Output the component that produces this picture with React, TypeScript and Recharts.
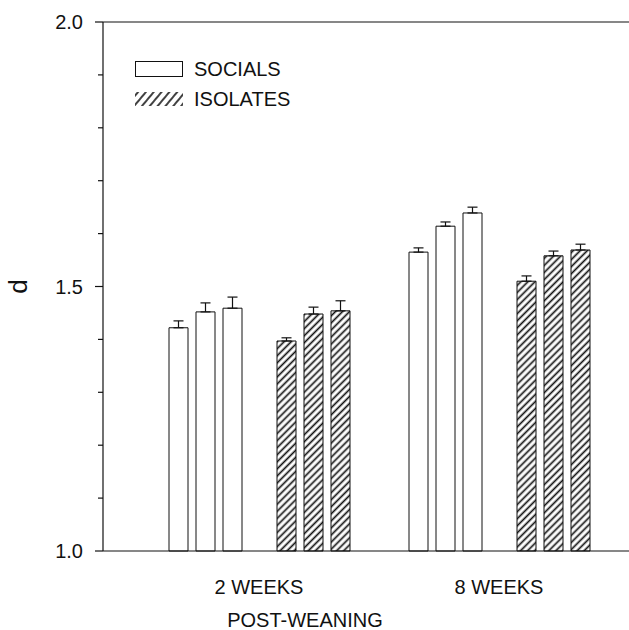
import React from "react";
import {
  BarChart,
  Bar,
  XAxis,
  YAxis,
  ErrorBar,
  ReferenceLine,
  Legend,
  Label,
} from "recharts";

const INK = "#111";
const FONT = "'Liberation Sans', Arial, Helvetica, sans-serif";

const weeks = ["2 WEEKS", "8 WEEKS"];
// three bars per group
const socialMeans = [
  [1.422, 1.452, 1.459],
  [1.565, 1.614, 1.639],
];
const socialErrors = [
  [0.013, 0.017, 0.021],
  [0.008, 0.008, 0.011],
];
const isolateMeans = [
  [1.397, 1.448, 1.454],
  [1.51, 1.558, 1.569],
];
const isolateErrors = [
  [0.006, 0.013, 0.019],
  [0.01, 0.009, 0.011],
];
const yTicks = [1.0, 1.1, 1.2, 1.3, 1.4, 1.5, 1.6, 1.7, 1.8, 1.9, 2.0];
const labelledTicks = [1.0, 1.5, 2.0];
const legendItems = ["SOCIALS", "ISOLATES"];

const rows = weeks.map((week, w) => {
  const row: Record<string, any> = { week, spacer: null };
  [0, 1, 2].forEach((k) => {
    row[`s${k}`] = socialMeans[w][k];
    row[`s${k}Err`] = [0, socialErrors[w][k]];
    row[`i${k}`] = isolateMeans[w][k];
    row[`i${k}Err`] = [0, isolateErrors[w][k]];
  });
  return row;
});

const YTick = ({ x, y, payload }: any) => {
  const major = labelledTicks.includes(payload.value);
  return (
    <g>
      <line x1={x - (major ? 8 : 5)} x2={x} y1={y} y2={y} stroke={INK} strokeWidth={1.2} />
      {major && (
        <text
          x={x - 20}
          y={y}
          dy={7}
          textAnchor="end"
          fontSize={20}
          fontFamily={FONT}
          fill={INK}
        >
          {payload.value.toFixed(1)}
        </text>
      )}
    </g>
  );
};

const XTick = ({ x, y, payload }: any) => (
  <text x={x} y={y} dy={43} textAnchor="middle" fontSize={20} fontFamily={FONT} fill={INK}>
    {payload.value}
  </text>
);

// rotated "d" on the left of the value axis
const YTitle = ({ viewBox }: any) => {
  const cx = 18;
  const cy = viewBox.y + viewBox.height / 2;
  return (
    <text
      x={cx}
      y={cy}
      dy={9}
      textAnchor="middle"
      fontSize={26}
      fontFamily={FONT}
      fill={INK}
      transform={`rotate(-90 ${cx} ${cy})`}
    >
      d
    </text>
  );
};

const LegendBox = () => (
  <div style={{ fontFamily: FONT, fontSize: 20, color: INK }}>
    {legendItems.map((name, i) => (
      <div key={name} style={{ display: "flex", alignItems: "center", height: 30 }}>
        <svg width={48} height={16} style={{ marginRight: 11 }}>
          <defs>
            <pattern
              id="legendHatch"
              patternUnits="userSpaceOnUse"
              width={6}
              height={6}
              patternTransform="rotate(40)"
            >
              <line x1={3} y1={0} x2={3} y2={6} stroke={INK} strokeWidth={1.6} />
            </pattern>
          </defs>
          {i === 0 ? (
            <rect x={0.5} y={0.5} width={47} height={15} fill="#fff" stroke={INK} strokeWidth={1} />
          ) : (
            <rect x={0} y={1} width={48} height={14} fill="url(#legendHatch)" />
          )}
        </svg>
        <span>{name}</span>
      </div>
    ))}
  </div>
);

export default function App() {
  return (
    <div style={{ position: "absolute", left: 0, top: 0, width: 629, height: 630, background: "#fff" }}>
      <BarChart
        width={629}
        height={630}
        data={rows}
        margin={{ top: 22, right: 0, bottom: 0, left: 0 }}
        barSize={19}
        barGap={8}
      >
        <defs>
          <pattern
            id="hatch"
            patternUnits="userSpaceOnUse"
            width={5}
            height={5}
            patternTransform="rotate(45)"
          >
            <rect width={5} height={5} fill="#fff" />
            <line x1={2.5} y1={0} x2={2.5} y2={5} stroke={INK} strokeWidth={1.7} />
          </pattern>
        </defs>
        <XAxis
          dataKey="week"
          height={79}
          padding={{ left: 36, right: 10 }}
          tickLine={false}
          tickSize={0}
          tickMargin={0}
          interval={0}
          axisLine={{ stroke: INK, strokeWidth: 1.2 }}
          tick={<XTick />}
        >
          <Label
            value="POST-WEANING"
            position="insideBottom"
            offset={3}
            dx={-61}
            style={{ fontSize: 20, fontFamily: FONT, fill: INK }}
          />
        </XAxis>
        <YAxis
          type="number"
          width={103}
          domain={[1, 2]}
          ticks={yTicks}
          interval={0}
          tickLine={false}
          tickSize={0}
          tickMargin={0}
          axisLine={{ stroke: INK, strokeWidth: 1.2 }}
          tick={<YTick />}
        >
          <Label content={<YTitle />} />
        </YAxis>
        <ReferenceLine y={2} stroke={INK} strokeWidth={1.2} ifOverflow="extendDomain" />
        <Legend
          layout="vertical"
          align="center"
          verticalAlign="middle"
          wrapperStyle={{ left: 135, top: 54, width: 200 }}
          content={<LegendBox />}
        />
        {[0, 1, 2].map((k) => (
          <Bar
            key={`s${k}`}
            dataKey={`s${k}`}
            fill="#fff"
            stroke={INK}
            strokeWidth={1}
            isAnimationActive={false}
          >
            <ErrorBar dataKey={`s${k}Err`} width={5} stroke={INK} strokeWidth={1.2} direction="y" />
          </Bar>
        ))}
        <Bar dataKey="spacer" fill="none" stroke="none" isAnimationActive={false} />
        {[0, 1, 2].map((k) => (
          <Bar
            key={`i${k}`}
            dataKey={`i${k}`}
            fill="url(#hatch)"
            stroke={INK}
            strokeWidth={1}
            isAnimationActive={false}
          >
            <ErrorBar dataKey={`i${k}Err`} width={5} stroke={INK} strokeWidth={1.2} direction="y" />
          </Bar>
        ))}
      </BarChart>
    </div>
  );
}
